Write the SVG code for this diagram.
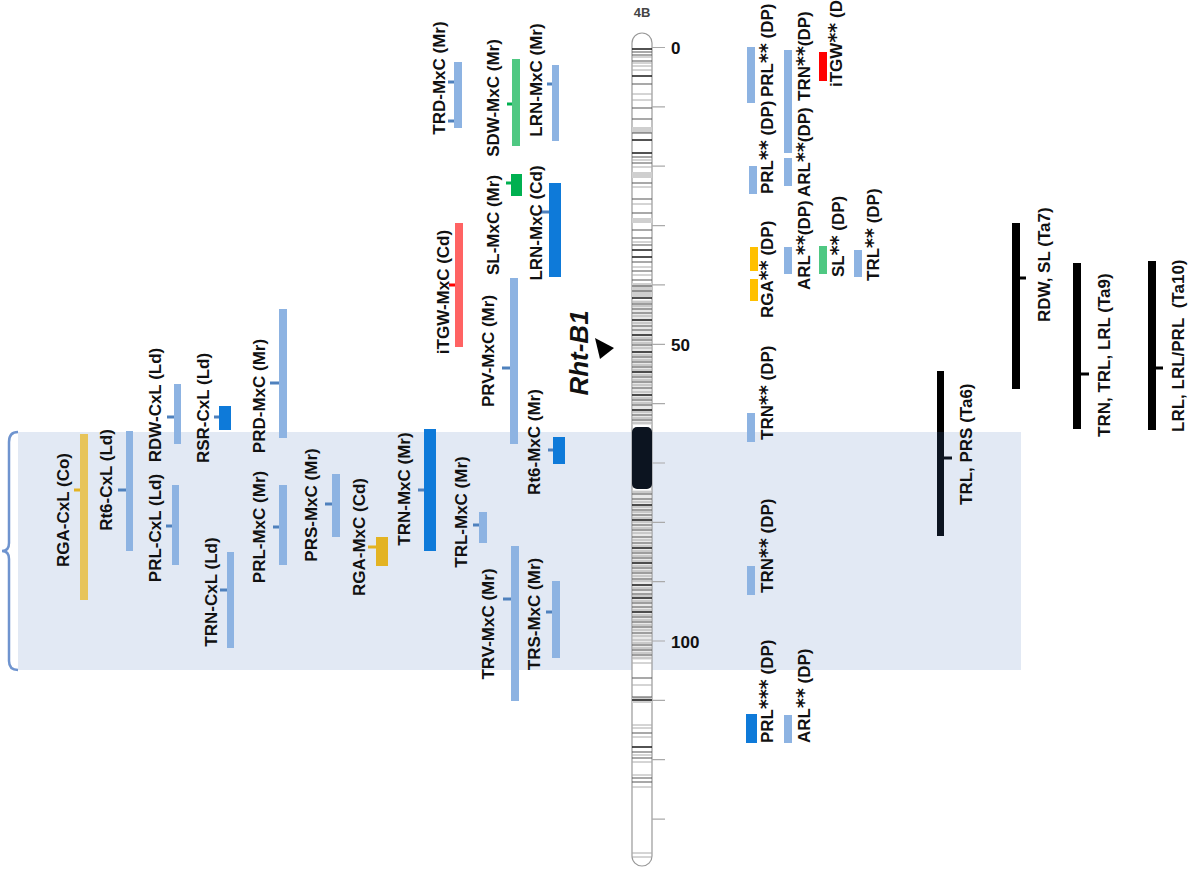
<svg xmlns="http://www.w3.org/2000/svg" width="1192" height="878" viewBox="0 0 1192 878">
<style>
text{font-family:"Liberation Sans",Arial,sans-serif;font-weight:bold;font-size:17px;fill:#111}
.st{font-family:"DejaVu Sans",sans-serif;font-size:19px}
.lb{fill:#8db3e2}.db{fill:#0e7ad9}.tk{fill:#4f81bd}.blk{fill:#000}.nv{fill:#0c1420}
.gl{fill:#e7c45a}.gd{fill:#e3b322}.gy{fill:#ffc000}
.grl{fill:#4fc882}.grd{fill:#00b050}.rl{fill:#ff6363}.rd{fill:#ff0000}
.axis{stroke:#aaa;stroke-width:1.2}
</style>
<rect width="1192" height="878" fill="#fff"/>
<!-- shaded interval with brace -->
<g id="interval">
<rect x="18" y="432" width="1003" height="238" fill="#e2e9f4"/>
<path d="M18,432 Q9,432 9,442 L9,543 Q9,551 2,551 Q9,551 9,559 L9,661 Q9,670 18,670" fill="none" stroke="#6f94cf" stroke-width="2.5"/>
</g>
<!-- chromosome -->
<g id="chromosome">
<text x="642" y="17" text-anchor="middle" style="font-size:13px;fill:#444">4B</text>
<rect x="632" y="33" width="20" height="833" rx="10" fill="#fff" stroke="#999" stroke-width="1.2"/>
<g fill="#cfcfcf"><rect x="632" y="127" width="20" height="6"/><rect x="632" y="172" width="20" height="6"/><rect x="632" y="218" width="20" height="5"/><rect x="632" y="283" width="20" height="14"/><rect x="632" y="300" width="20" height="125" opacity="0.5"/><rect x="632" y="490" width="20" height="170" opacity="0.45"/><rect x="632" y="697" width="20" height="6"/></g>
<path stroke="#aaa" stroke-width="1" d="M632 57h20M632 63h20M632 66h20M632 70h20M632 94h20M632 100h20M632 160h20M632 167h20M632 187h20M632 204h20M632 242h20M632 267h20M632 275h20M632 302h20M632 306h20M632 316h20M632 323h20M632 338h20M632 343h20M632 348h20M632 355h20M632 360h20M632 365h20M632 370h20M632 375h20M632 380h20M632 385h20M632 392h20M632 398h20M632 403h20M632 412h20M632 418h20M632 423h20M632 492h20M632 502h20M632 507h20M632 512h20M632 518h20M632 522h20M632 528h20M632 533h20M632 540h20M632 546h20M632 551h20M632 556h20M632 561h20M632 566h20M632 571h20M632 576h20M632 581h20M632 588h20M632 596h20M632 601h20M632 610h20M632 615h20M632 620h20M632 625h20M632 630h20M632 636h20M632 640h20M632 643h20M632 648h20M632 653h20M632 658h20M632 663h20M632 685h20M632 725h20M632 728h20M632 737h20M632 755h20M632 762h20M632 775h20M632 787h20M632 853h20M632 857h20"/>
<path stroke="#555" stroke-width="1.1" d="M632 52h20M632 55h20M632 61h20M632 84h20M632 108h20M632 119h20M632 133h20M632 157h20M632 163h20M632 183h20M632 199h20M632 213h20M632 230h20M632 238h20M632 245h20M632 262h20M632 271h20M632 280h20M632 286h20M632 291h20M632 304h20M632 309h20M632 313h20M632 326h20M632 330h20M632 340h20M632 345h20M632 357h20M632 362h20M632 367h20M632 377h20M632 382h20M632 388h20M632 400h20M632 405h20M632 415h20M632 420h20M632 494h20M632 499h20M632 510h20M632 515h20M632 525h20M632 530h20M632 537h20M632 543h20M632 553h20M632 558h20M632 568h20M632 573h20M632 579h20M632 590h20M632 594h20M632 603h20M632 607h20M632 617h20M632 622h20M632 627h20M632 633h20M632 645h20M632 650h20M632 655h20M632 678h20M632 697h20M632 733h20M632 752h20M632 758h20M632 778h20M632 782h20"/>
<path stroke="#1a1a1a" stroke-width="1.6" d="M632 49h20M632 76h20M632 140h20M632 153h20M632 250h20M632 257h20M632 298h20M632 320h20M632 335h20M632 352h20M632 372h20M632 395h20M632 410h20M632 505h20M632 520h20M632 548h20M632 563h20M632 585h20M632 598h20M632 612h20M632 700h20M632 747h20"/>
<rect x="632" y="427" width="20" height="62" rx="5" class="nv"/>
<path class="axis" d="M652 47.5h13M652 106.9h13M652 166.2h13M652 225.6h13M652 284.9h13M652 344.3h13M652 403.6h13M652 463h13M652 522.3h13M652 581.7h13M652 641h13M652 700.4h13M652 759.7h13M652 819.1h13"/>
<text x="671" y="53.5">0</text>
<text x="671" y="351">50</text>
<text x="671" y="648">100</text>
</g>
<g id="rht-b1">
<text x="588" y="353" transform="rotate(-90 588 353)" text-anchor="middle" style="font-size:26px;font-style:italic">Rht-B1</text>
<polygon points="595,338 614,348 600,359" fill="#000"/>
</g>
<!-- left QTL nodes -->
<g id="rga-cxl"><rect class="gl" x="80" y="434" width="8" height="166"/><rect class="gd" x="74" y="488.5" width="6" height="3"/><text x="68.5" y="510" transform="rotate(-90 68.5 510)" text-anchor="middle">RGA-CxL (Co)</text></g>
<g id="rt6-cxl"><rect class="lb" x="126" y="431" width="7" height="120"/><rect class="tk" x="118" y="488.5" width="8" height="3"/><text x="111.5" y="480" transform="rotate(-90 111.5 480)" text-anchor="middle">Rt6-CxL (Ld)</text></g>
<g id="rdw-cxl"><rect class="lb" x="174" y="384" width="7" height="60"/><rect class="tk" x="167" y="415.5" width="7" height="3"/><text x="160.5" y="405" transform="rotate(-90 160.5 405)" text-anchor="middle">RDW-CxL (Ld)</text></g>
<g id="prl-cxl"><rect class="lb" x="172" y="485" width="7" height="80"/><rect class="tk" x="166" y="524.5" width="6" height="3"/><text x="160.5" y="528" transform="rotate(-90 160.5 528)" text-anchor="middle">PRL-CxL (Ld)</text></g>
<g id="trn-cxl"><rect class="lb" x="227" y="552" width="7" height="96"/><rect class="tk" x="220" y="588.5" width="7" height="3"/><text x="216.5" y="592" transform="rotate(-90 216.5 592)" text-anchor="middle">TRN-CxL (Ld)</text></g>
<g id="rsr-cxl"><rect class="db" x="219" y="406" width="12" height="24"/><rect class="tk" x="214" y="415.5" width="5" height="3"/><text x="208.5" y="408" transform="rotate(-90 208.5 408)" text-anchor="middle">RSR-CxL (Ld)</text></g>
<g id="prd-mxc"><rect class="lb" x="279" y="309" width="8" height="129"/><rect class="tk" x="270" y="381.5" width="9" height="3"/><text x="264.5" y="396" transform="rotate(-90 264.5 396)" text-anchor="middle">PRD-MxC (Mr)</text></g>
<g id="prl-mxc"><rect class="lb" x="279" y="485" width="8" height="80"/><rect class="tk" x="273" y="525.5" width="6" height="3"/><text x="264.5" y="527" transform="rotate(-90 264.5 527)" text-anchor="middle">PRL-MxC (Mr)</text></g>
<g id="prs-mxc"><rect class="lb" x="332" y="474" width="8" height="63"/><rect class="tk" x="325" y="502.5" width="7" height="3"/><text x="317" y="505" transform="rotate(-90 317 505)" text-anchor="middle">PRS-MxC (Mr)</text></g>
<g id="rga-mxc"><rect class="gd" x="376" y="537" width="12" height="29"/><rect class="gd" x="368" y="545.5" width="8" height="3"/><text x="364.5" y="537" transform="rotate(-90 364.5 537)" text-anchor="middle">RGA-MxC (Cd)</text></g>
<g id="trn-mxc"><rect class="db" x="424" y="429" width="12" height="122"/><rect class="tk" x="418" y="488.5" width="6" height="3"/><text x="410" y="489" transform="rotate(-90 410 489)" text-anchor="middle">TRN-MxC (Mr)</text></g>
<g id="trl-mxc"><rect class="lb" x="479" y="512" width="8" height="31"/><rect class="tk" x="473" y="523.5" width="6" height="3"/><text x="466.5" y="512" transform="rotate(-90 466.5 512)" text-anchor="middle">TRL-MxC (Mr)</text></g>
<g id="trv-mxc"><rect class="lb" x="511" y="546" width="8" height="155"/><rect class="tk" x="503" y="597.5" width="8" height="3"/><text x="494" y="624" transform="rotate(-90 494 624)" text-anchor="middle">TRV-MxC (Mr)</text></g>
<g id="trs-mxc"><rect class="lb" x="552" y="581" width="8" height="77"/><rect class="tk" x="546" y="610.5" width="6" height="3"/><text x="540" y="614" transform="rotate(-90 540 614)" text-anchor="middle">TRS-MxC (Mr)</text></g>
<g id="rt6-mxc"><rect class="db" x="553" y="437" width="12" height="27"/><rect class="tk" x="548" y="448.5" width="5" height="3"/><text x="540" y="442" transform="rotate(-90 540 442)" text-anchor="middle">Rt6-MxC (Mr)</text></g>
<g id="prv-mxc"><rect class="lb" x="510" y="278" width="8" height="166"/><rect class="tk" x="502" y="366.5" width="8" height="3"/><text x="494" y="351" transform="rotate(-90 494 351)" text-anchor="middle">PRV-MxC (Mr)</text></g>
<g id="sl-mxc"><rect class="grd" x="511" y="174" width="11" height="22"/><rect class="grd" x="506" y="181.5" width="5" height="3"/><text x="499" y="225" transform="rotate(-90 499 225)" text-anchor="middle">SL-MxC (Mr)</text></g>
<g id="sdw-mxc"><rect class="grl" x="512" y="59" width="8" height="87"/><rect class="grd" x="507" y="102.5" width="5" height="3"/><text x="499" y="98" transform="rotate(-90 499 98)" text-anchor="middle">SDW-MxC (Mr)</text></g>
<g id="trd-mxc"><rect class="lb" x="454" y="62" width="8" height="66"/><rect class="tk" x="448" y="80.5" width="6" height="3"/><rect class="tk" x="448" y="119.5" width="6" height="3"/><text x="445" y="78" transform="rotate(-90 445 78)" text-anchor="middle">TRD-MxC (Mr)</text></g>
<g id="lrn-mxc-mr"><rect class="lb" x="552" y="65" width="7" height="76"/><rect class="tk" x="547" y="82.5" width="5" height="3"/><text x="542" y="80" transform="rotate(-90 542 80)" text-anchor="middle">LRN-MxC (Mr)</text></g>
<g id="lrn-mxc-cd"><rect class="db" x="549" y="183" width="12" height="94"/><rect class="tk" x="541" y="210.5" width="8" height="3"/><text x="542" y="223" transform="rotate(-90 542 223)" text-anchor="middle">LRN-MxC (Cd)</text></g>
<g id="itgw-mxc"><rect class="rl" x="455" y="223" width="8" height="124"/><rect class="rd" x="449" y="283.5" width="6" height="3"/><text x="449" y="292" transform="rotate(-90 449 292)" text-anchor="middle">iTGW-MxC (Cd)</text></g>
<!-- right DP nodes -->
<g id="prl-dp-1"><rect class="lb" x="747" y="47" width="8" height="56"/><text x="772.5" y="97" transform="rotate(-90 772.5 97)">PRL<tspan class="st">**</tspan> (DP)</text></g>
<g id="prl-dp-2"><rect class="lb" x="749" y="166" width="8" height="28"/><text x="772.5" y="194" transform="rotate(-90 772.5 194)">PRL<tspan class="st">**</tspan> (DP)</text></g>
<g id="trn-dp-1"><rect class="lb" x="784" y="50" width="8" height="103"/><text x="809.5" y="101" transform="rotate(-90 809.5 101)">TRN<tspan class="st">**</tspan>(DP)</text></g>
<g id="arl-dp-1"><rect class="lb" x="784" y="158" width="8" height="28"/><text x="809.5" y="197" transform="rotate(-90 809.5 197)">ARL<tspan class="st">**</tspan>(DP)</text></g>
<g id="itgw-dp"><rect class="rd" x="819" y="52" width="8" height="29"/><text x="842" y="87" transform="rotate(-90 842 87)">iTGW<tspan class="st">**</tspan> (DP)</text></g>
<g id="rga-dp"><rect class="gy" x="750" y="247" width="8" height="24"/><rect class="gy" x="750" y="279" width="8" height="22"/><text x="772.5" y="318" transform="rotate(-90 772.5 318)">RGA<tspan class="st">**</tspan> (DP)</text></g>
<g id="arl-dp-2"><rect class="lb" x="784" y="247" width="8" height="27"/><text x="809.5" y="290" transform="rotate(-90 809.5 290)">ARL<tspan class="st">**</tspan>(DP)</text></g>
<g id="sl-dp"><rect class="grl" x="819" y="246" width="8" height="28"/><text x="844" y="277" transform="rotate(-90 844 277)">SL<tspan class="st">**</tspan> (DP)</text></g>
<g id="trl-dp"><rect class="lb" x="854" y="250" width="8" height="27"/><text x="878.5" y="281" transform="rotate(-90 878.5 281)">TRL<tspan class="st">**</tspan> (DP)</text></g>
<g id="trn-dp-2"><rect class="lb" x="747" y="413" width="8" height="29"/><text x="772.5" y="440" transform="rotate(-90 772.5 440)">TRN<tspan class="st">**</tspan> (DP)</text></g>
<g id="trn-dp-3"><rect class="lb" x="747" y="566" width="8" height="29"/><text x="772.5" y="593" transform="rotate(-90 772.5 593)">TRN<tspan class="st">**</tspan> (DP)</text></g>
<g id="prl-dp-3"><rect class="db" x="746" y="714" width="11" height="29"/><text x="772.5" y="743" transform="rotate(-90 772.5 743)">PRL<tspan class="st">***</tspan> (DP)</text></g>
<g id="arl-dp-3"><rect class="lb" x="784" y="715" width="8" height="28"/><text x="809.5" y="743" transform="rotate(-90 809.5 743)">ARL<tspan class="st">**</tspan> (DP)</text></g>
<!-- black Ta nodes -->
<g id="ta6"><rect class="blk" x="937" y="371" width="7" height="61"/><rect class="nv" x="937" y="432" width="7" height="104"/><rect class="nv" x="944" y="456.5" width="8" height="3"/><text x="971.5" y="505" transform="rotate(-90 971.5 505)">TRL, PRS (Ta6)</text></g>
<g id="ta7"><rect class="blk" x="1012" y="223" width="8" height="166"/><rect class="blk" x="1020" y="276.5" width="6" height="3"/><text x="1050" y="322" transform="rotate(-90 1050 322)">RDW, SL (Ta7)</text></g>
<g id="ta9"><rect class="blk" x="1073" y="263" width="8" height="166"/><rect class="blk" x="1081" y="372.5" width="8" height="3"/><text x="1110" y="437" transform="rotate(-90 1110 437)">TRN, TRL, LRL (Ta9)</text></g>
<g id="ta10"><rect class="blk" x="1148" y="261" width="8" height="169"/><rect class="blk" x="1156" y="366.5" width="7" height="3"/><text x="1184" y="432" transform="rotate(-90 1184 432)">LRL, LRL/PRL&#160; (Ta10)</text></g>
</svg>
